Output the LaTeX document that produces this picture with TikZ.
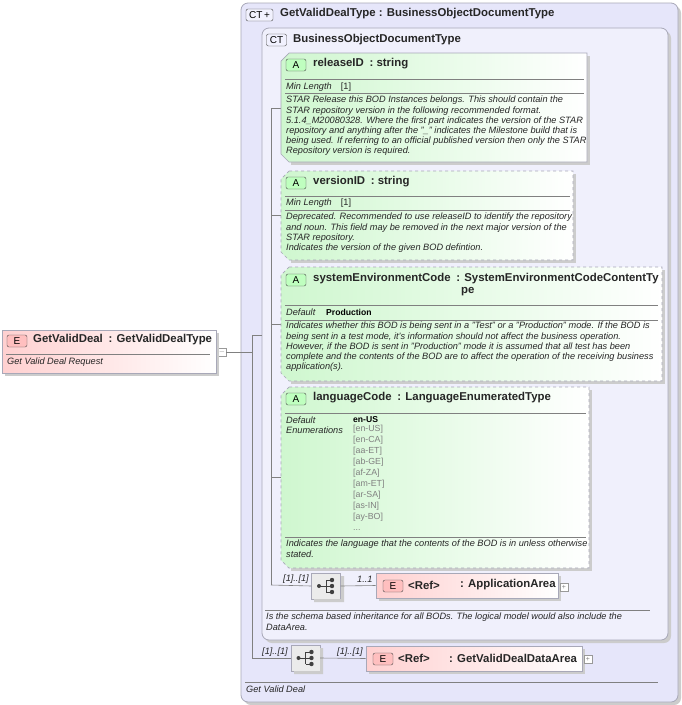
\documentclass[tikz,border=0pt]{standalone}
\usepackage{fontspec}
\setmainfont{Liberation Sans}
\usetikzlibrary{shadows,calc}
\definecolor{ctbg}{HTML}{E6E6FA}
\definecolor{ctbd}{HTML}{A8A8B8}
\definecolor{grn}{HTML}{CFF7CF}
\definecolor{pnk}{HTML}{FFD0D0}
\definecolor{lnc}{HTML}{808080}
\definecolor{enumc}{HTML}{808080}
\tikzset{
 ctbox/.style={draw=ctbd,fill=ctbg,rounded corners=7pt,line width=0.8pt},
 attr/.style={draw=ctbd,left color=grn,right color=white,line width=0.7pt},
 attrd/.style={attr,dashed},
 ebox/.style={draw=ctbd,left color=pnk,right color=white,line width=0.7pt},
 badge/.style={draw=black!70,rounded corners=2pt,minimum width=20pt,minimum height=12pt,inner sep=0pt,font=\fontsize{10}{10}\selectfont},
 abadge/.style={badge,fill=green!25!white},
 ebadge/.style={badge,fill=red!25!white},
 ctbadge/.style={badge,fill=ctbg!70!blue!15},
 ttl/.style={anchor=west,inner sep=0pt,font=\fontsize{11.4}{13}\selectfont\bfseries,text=black!85},
 desc/.style={anchor=north west,inner sep=0pt,align=left,font=\fontsize{9.2}{10.2}\selectfont\itshape,text=black!85},
 small/.style={anchor=west,inner sep=0pt,font=\fontsize{9.2}{10}\selectfont\itshape,text=black!85},
 conn/.style={draw=lnc,line width=0.6pt},
 sep/.style={draw=lnc,line width=0.5pt},
 seqbox/.style={draw=ctbd,fill=black!8,minimum width=29pt,minimum height=26pt,inner sep=0pt},
 plusbox/.style={draw=black!40,fill=white,minimum size=8pt,inner sep=0pt,font=\fontsize{7}{7}\selectfont,text=black!50},
}
\newcommand{\chamf}[5]{% style,x1,y1,x2,y2
 \fill[black!20] (#2+10,#3+3) -- (#4+3,#3+3) -- (#4+3,#5+3) -- (#2+10,#5+3) -- cycle;
 \path[#1] (#2+8,#3) -- (#4,#3) -- (#4,#5) -- (#2+8,#5) -- (#2,#5-8) -- (#2,#3+8) -- cycle;}
\newcommand{\seqicon}[1]{%
 \draw[black!75,line width=1pt] ($(#1)+(-7,0)$) -- ($(#1)+(0,0)$) ($(#1)+(0,-6)$) -- ($(#1)+(0,6)$) ($(#1)+(0,-6)$) -- ($(#1)+(6,-6)$) ($(#1)+(0,0)$) -- ($(#1)+(6,0)$) ($(#1)+(0,6)$) -- ($(#1)+(6,6)$);
 \fill[black!75] ($(#1)+(-7,0)$) circle (2) ($(#1)+(6,-6)$) circle (2.2) ($(#1)+(6,0)$) circle (2.2) ($(#1)+(6,6)$) circle (2.2);}
\begin{document}
\begin{tikzpicture}[x=1pt,y=-1pt]
\useasboundingbox (0,0) rectangle (682,705);
\fill[white] (0,0) rectangle (682,705);
% outer CT
\fill[black!20,rounded corners=7pt] (244,6) rectangle (681,705);
\path[ctbox] (241,3) rectangle (678,702);
\node[ctbadge,minimum width=27pt] (ctb1) at (259.5,15) {CT\,+};
\node[ttl] (t1) at (280,14) {GetValidDealType : BusinessObjectDocumentType};
% inner CT
\fill[black!20,rounded corners=7pt] (265,31) rectangle (671,643);
\path[ctbox,fill=ctbg!60!white] (262,28) rectangle (668,640);
\node[ctbadge] (ctb2) at (276.5,40) {CT};
\node[ttl] (t2) at (293,40) {BusinessObjectDocumentType};
% connectors inner
\coordinate (vi1) at (271,108);
\coordinate (vi2) at (271,585);
\draw[conn] (vi1) -- (vi2);
\draw[conn] (vi1) -- (281,108);
\draw[conn] (271,215) -- (281,215);
\draw[conn] (271,324) -- (281,324);
\draw[conn] (271,477) -- (281,477);
% releaseID
\chamf{attr}{281}{53}{587}{162}
\node[abadge] (a1) at (296,65) {A};
\node[ttl] (n1) at (313,64) {releaseID\enspace: string};
\draw[sep] (285,79) -- (584,79); \draw[sep] (285,93) -- (584,93);
\node[small] (ml1) at (286,87) {Min Length\quad{\upshape[1]}};
\node[desc] (d1) at (286,96) {STAR Release this BOD Instances belongs. This should contain the\\STAR repository version in the following recommended format.\\5.1.4\_M20080328. Where the first part indicates the version of the STAR\\repository and anything after the "\_" indicates the Milestone build that is\\being used. If referring to an official published version then only the STAR\\Repository version is required.};
% versionID
\chamf{attrd}{281}{171}{573}{260}
\node[abadge] (a2) at (296,183) {A};
\node[ttl] (n2) at (313,182) {versionID\enspace: string};
\draw[sep] (285,196) -- (570,196); \draw[sep] (285,210) -- (570,210);
\node[small] (ml2) at (286,203) {Min Length\quad{\upshape[1]}};
\node[desc] (d2) at (286,213) {Deprecated. Recommended to use releaseID to identify the repository\\and noun. This field may be removed in the next major version of the\\STAR repository.\\Indicates the version of the given BOD defintion.};
% systemEnvironmentCode
\chamf{attrd}{281}{267}{662}{381}
\node[abadge] (a3) at (296,280) {A};
\node[ttl] (n3) at (313,279) {systemEnvironmentCode\enspace: SystemEnvironmentCodeContentTy};
\node[ttl] (n3b) at (461,292) {pe};
\draw[sep] (285,305) -- (658,305); \draw[sep] (285,320) -- (658,320);
\node[small] (df3) at (286,312) {Default};
\node[anchor=west,inner sep=0pt,font=\fontsize{8.6}{9}\selectfont\bfseries] (pv) at (326,312) {Production};
\node[desc] (d3) at (286,322) {Indicates whether this BOD is being sent in a "Test" or a "Production" mode. If the BOD is\\being sent in a test mode, it's information should not affect the business operation.\\However, if the BOD is sent in "Production" mode it is assumed that all test has been\\complete and the contents of the BOD are to affect the operation of the receiving business\\application(s).};
% languageCode
\chamf{attrd}{281}{387}{589}{568}
\node[abadge] (a4) at (296,399) {A};
\node[ttl] (n4) at (313,398) {languageCode\enspace: LanguageEnumeratedType};
\draw[sep] (285,413) -- (586,413); \draw[sep] (285,537) -- (586,537);
\node[small] (df4) at (286,420) {Default};
\node[small] (en4) at (286,430) {Enumerations};
\node[anchor=west,inner sep=0pt,font=\fontsize{8.6}{9}\selectfont\bfseries] (dv4) at (353,420) {en-US};
\node[anchor=north west,inner sep=0pt,align=left,font=\fontsize{8.8}{11}\selectfont,text=enumc] (el) at (353,425) {{[en-US]}\\{}{[en-CA]}\\{}{[aa-ET]}\\{}{[ab-GE]}\\{}{[af-ZA]}\\{}{[am-ET]}\\{}{[ar-SA]}\\{}{[as-IN]}\\{}{[ay-BO]}\\{}...};
\node[desc] (d4) at (286,540) {Indicates the language that the contents of the BOD is in unless otherwise\\stated.};
% sequence 1
\node[seqbox] (s1) at (326,586) {};
\fill[black!20] (341,576) rectangle (344,602) (314,599) rectangle (344,602);
\seqicon{s1}
\node[small] (m1) at (283,579) {[1]..[1]};
\node[small] (m2) at (357,579) {1..1};
\draw[conn] (vi2) -- (s1.west);
\fill[black!20] (379,576) rectangle (561,601);
\node[ebox,minimum width=182pt,minimum height=25pt,inner sep=0pt] (aa) at (467,585.5) {};
\draw[conn] (s1.east) -- (aa.west);
\node[ebadge] (e1) at (393,586) {E};
\node[ttl] (aat) at (408,585) {<Ref>};
\node[ttl] (aat2) at (460,585) {: ApplicationArea};
\node[plusbox] (p1) at (564,587) {+};
\draw[sep] (265,610) -- (650,610);
\node[desc] (d5) at (266,613) {Is the schema based inheritance for all BODs. The logical model would also include the\\DataArea.};
% outer connectors
\node[plusbox] (mn) at (222,352) {$-$};
\coordinate (vo1) at (252,335);
\coordinate (vo2) at (252,658);
\draw[conn] (vo1) -- (vo2);
\draw[conn] (vo1) -- (262,335);
\draw[conn] (mn.east) -- (252,352);
% sequence 2
\node[seqbox] (s2) at (305.5,658) {};
\fill[black!20] (320,648) rectangle (323,674) (294,671) rectangle (323,674);
\seqicon{s2}
\node[small] (m3) at (262,652) {[1]..[1]};
\node[small] (m4) at (337,652) {[1]..[1]};
\draw[conn] (vo2) -- (s2.west);
\fill[black!20] (369,649) rectangle (585,674);
\node[ebox,minimum width=216pt,minimum height=25pt,inner sep=0pt] (da) at (474,658.5) {};
\draw[conn] (s2.east) -- (da.west);
\node[ebadge] (e2) at (383,659) {E};
\node[ttl] (dat) at (398,658) {<Ref>};
\node[ttl] (dat2) at (449,658) {: GetValidDealDataArea};
\node[plusbox] (p2) at (588,659) {+};
\draw[sep] (245,682) -- (658,682);
\node[small] (d6) at (246,689) {Get Valid Deal};
% GetValidDeal
\fill[black!20] (5,333) rectangle (219,376);
\node[ebox,minimum width=214pt,minimum height=43pt,inner sep=0pt] (gv) at (109,351.5) {};
\node[ebadge] (e3) at (17,341) {E};
\node[ttl] (gvt) at (33,340) {GetValidDeal\enspace: GetValidDealType};
\draw[sep] (6,354) -- (210,354);
\node[small] (gvd) at (7,362) {Get Valid Deal Request};
\end{tikzpicture}
\end{document}
